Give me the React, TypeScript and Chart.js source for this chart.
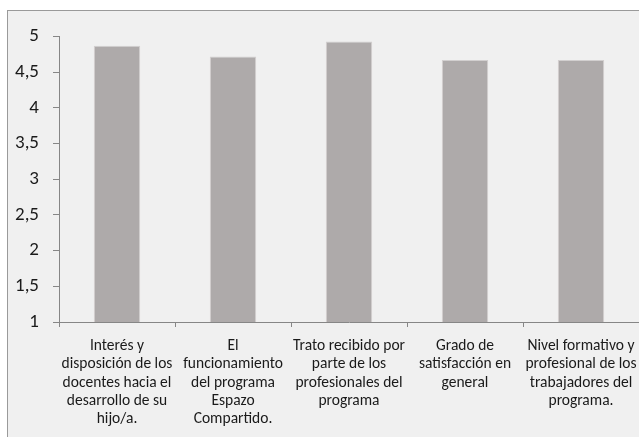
import React, { useEffect, useRef } from "react";
import { Chart, registerables } from "chart.js";

Chart.register(...registerables);

const categories: string[][] = [
  ["Interés y", "disposición de los", "docentes hacia el", "desarrollo de su", "hijo/a."],
  ["El", "funcionamiento", "del programa", "Espazo", "Compartido."],
  ["Trato recibido por", "parte de los", "profesionales del", "programa"],
  ["Grado de", "satisfacción en", "general"],
  ["Nivel formativo y", "profesional de los", "trabajadores del", "programa."],
];
const values: number[] = [4.87, 4.72, 4.93, 4.67, 4.67];
const yMin = 1;
const yMax = 5;
const yStep = 0.5;

const FONT = "Carlito, Calibri, Lato, 'Noto Sans', sans-serif";

export default function App() {
  const ref = useRef<HTMLCanvasElement | null>(null);
  useEffect(() => {
    if (!ref.current) return;
    const chart = new Chart(ref.current, {
      type: "bar",
      data: {
        labels: categories,
        datasets: [
          {
            data: values,
            backgroundColor: "#aeaaaa",
            borderColor: "#d2cfcf",
            borderWidth: 1,
            categoryPercentage: 1,
            barPercentage: 0.4,
          },
        ],
      },
      options: {
        responsive: false,
        animation: false,
        events: [],
        layout: { padding: { top: 23, left: 0, right: 14, bottom: 0 } },
        plugins: { legend: { display: false }, tooltip: { enabled: false } },
        scales: {
          x: {
            grid: {
              offset: true,
              drawOnChartArea: false,
              drawTicks: true,
              tickLength: 5,
              color: "#868686",
            },
            border: { display: true, color: "#868686" },
            ticks: {
              autoSkip: false,
              maxRotation: 0,
              minRotation: 0,
              padding: 10,
              color: "#1a1a1a",
              font: { family: FONT, size: 15.5, lineHeight: 1.18 },
            },
            afterFit: (s: any) => {
              s.height = 115;
            },
          },
          y: {
            min: yMin,
            max: yMax,
            ticks: {
              stepSize: yStep,
              padding: 14,
              color: "#1a1a1a",
              font: { family: FONT, size: 19 },
              callback: (v: any) => String(v).replace(".", ","),
            },
            grid: {
              drawOnChartArea: false,
              drawTicks: true,
              tickLength: 6,
              color: "#868686",
            },
            border: { display: true, color: "#868686" },
            afterFit: (s: any) => {
              s.width = 51;
            },
          },
        },
      },
    });
    return () => chart.destroy();
  }, []);
  return (
    <div
      style={{
        position: "absolute",
        left: 7,
        top: 10,
        width: 632,
        height: 427,
        background: "#f0f0f0",
        borderTop: "1px solid #9a9a9a",
        borderLeft: "1px solid #9a9a9a",
        overflow: "hidden",
      }}
    >
      <canvas ref={ref} width={645} height={426} style={{ display: "block" }} />
    </div>
  );
}
